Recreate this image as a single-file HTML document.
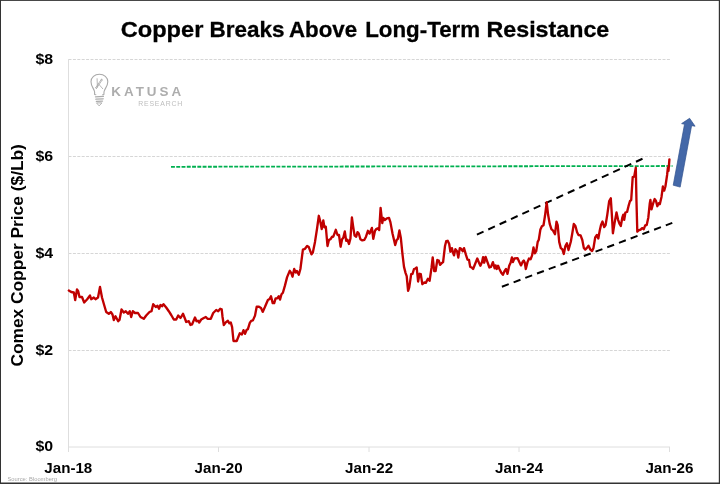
<!DOCTYPE html>
<html><head><meta charset="utf-8"><title>Copper Breaks Above Long-Term Resistance</title>
<style>
html,body{margin:0;padding:0;background:#fff;}
body{width:720px;height:484px;overflow:hidden;}
svg{display:block;will-change:transform;}
text{font-family:"Liberation Sans",sans-serif;}
.b{font-weight:bold;fill:#000;}
</style></head><body>
<svg width="720" height="484" viewBox="0 0 720 484">
<rect x="0" y="0" width="720" height="484" fill="#fff"/>
<!-- grid -->
<g stroke="#d6d6d6" stroke-width="1" stroke-dasharray="3,1.4" fill="none">
<line x1="68.5" y1="59.5" x2="670" y2="59.5"/>
<line x1="68.5" y1="156.5" x2="670" y2="156.5"/>
<line x1="68.5" y1="253.5" x2="670" y2="253.5"/>
<line x1="68.5" y1="350.5" x2="670" y2="350.5"/>
</g>
<g stroke="#dedede" stroke-width="1" fill="none">
<line x1="68.5" y1="59" x2="68.5" y2="452"/>
<line x1="68" y1="447" x2="670" y2="447"/>
<line x1="218.5" y1="447" x2="218.5" y2="452"/>
<line x1="369" y1="447" x2="369" y2="452"/>
<line x1="519" y1="447" x2="519" y2="452"/>
<line x1="669.5" y1="447" x2="669.5" y2="452"/>
</g>
<!-- title -->
<g class="b" font-size="22.9" stroke="#000" stroke-width="0.3">
<text x="120.75" y="37.3" lengthAdjust="spacingAndGlyphs" textLength="82.6">Copper</text>
<text x="209.5" y="37.3" lengthAdjust="spacingAndGlyphs" textLength="74.95">Breaks</text>
<text x="289" y="37.3" lengthAdjust="spacingAndGlyphs" textLength="68.2">Above</text>
<text x="365.25" y="37.3" lengthAdjust="spacingAndGlyphs" textLength="114.8">Long-Term</text>
<text x="486.5" y="37.3" lengthAdjust="spacingAndGlyphs" textLength="122.75">Resistance</text>
</g>
<!-- y labels -->
<g class="b" font-size="15">
<text x="35.4" y="63.9" lengthAdjust="spacingAndGlyphs" textLength="17.7">$8</text>
<text x="35.4" y="160.9" lengthAdjust="spacingAndGlyphs" textLength="17.7">$6</text>
<text x="35.4" y="257.9" lengthAdjust="spacingAndGlyphs" textLength="17.7">$4</text>
<text x="35.4" y="354.9" lengthAdjust="spacingAndGlyphs" textLength="17.7">$2</text>
<text x="35.4" y="451.4" lengthAdjust="spacingAndGlyphs" textLength="17.7">$0</text>
</g>
<!-- x labels -->
<g class="b" font-size="15">
<text x="44.3" y="472.9" lengthAdjust="spacingAndGlyphs" textLength="48">Jan-18</text>
<text x="194.6" y="472.9" lengthAdjust="spacingAndGlyphs" textLength="48">Jan-20</text>
<text x="345.1" y="472.9" lengthAdjust="spacingAndGlyphs" textLength="48">Jan-22</text>
<text x="495.1" y="472.9" lengthAdjust="spacingAndGlyphs" textLength="48">Jan-24</text>
<text x="645.4" y="472.9" lengthAdjust="spacingAndGlyphs" textLength="48">Jan-26</text>
</g>
<text class="b" font-size="17" transform="translate(23.4,366.6) rotate(-90)" x="0" y="0" textLength="222.5" lengthAdjust="spacingAndGlyphs">Comex Copper Price ($/Lb)</text>
<text x="7.5" y="481.3" font-size="5.6" fill="#a6a6a6" textLength="49.5" lengthAdjust="spacingAndGlyphs">Source: Bloomberg</text>
<!-- logo -->
<g fill="none" stroke="#a9a9a9" stroke-width="1.1" stroke-linecap="round" stroke-linejoin="round">
<path d="M95.9,94.7 L94.6,94.5 L94.6,92 C94.2,88.8 91,86.4 91,81.8 C91,77.5 94.7,74.3 99.4,74.3 C104.1,74.3 107.8,77.5 107.8,81.8 C107.8,86.4 104.4,88.8 104,92 L103.9,94.5 L102.6,94.8"/>
<path d="M96.9,102.9 L101.9,102.9 L99.4,105.6 Z" stroke-width="0.9"/>
</g>
<g fill="none" stroke="#ababab" stroke-width="1.35" stroke-linecap="round">
<path d="M95.5,96.8 L103.4,96.3"/>
<path d="M95.9,99.2 L103.1,98.8"/>
<path d="M96.4,101.4 L102.5,101.1"/>
</g>
<g fill="none" stroke="#a4a4a4" stroke-width="0.8" stroke-linecap="round">
<path d="M97.1,78.7 L97.4,87.2"/>
<path d="M101.4,79.2 L95.7,87.8"/>
<path d="M102.2,79.9 L96.5,88.4"/>
<path d="M101.4,79.2 L102.2,79.9 M95.7,87.8 L96.5,88.4"/>
<path d="M98.6,84 L102.7,88.7"/>
</g>
<text x="111.3" y="95.8" font-size="13.4" font-weight="bold" fill="#adadad" textLength="69.8" lengthAdjust="spacing">KATUSA</text>
<text x="138.2" y="105.6" font-size="6.9" fill="#bdbdbd" textLength="44" lengthAdjust="spacing">RESEARCH</text>
<!-- green resistance -->
<line x1="171" y1="166.8" x2="672.5" y2="166" stroke="#00b050" stroke-width="1.8" stroke-dasharray="3.9,1.37"/>
<!-- channel lines -->
<g stroke="#000" stroke-width="2" stroke-dasharray="7.3,5.2" fill="none">
<line x1="476.9" y1="234.7" x2="642.5" y2="158.75"/>
<line x1="501.9" y1="286.7" x2="672.3" y2="222.9"/>
</g>
<!-- price line -->
<path d="M68.8,290.5 L71.2,292.0 L73.8,292.5 L75.2,300.0 L77.0,289.5 L78.2,291.2 L79.5,297.0 L82.0,297.0 L84.2,302.5 L87.0,299.5 L90.0,295.5 L91.2,299.2 L93.8,297.5 L95.5,299.2 L98.0,297.5 L100.0,287.0 L102.0,297.5 L104.0,304.5 L106.2,312.0 L108.8,313.8 L110.8,312.0 L112.5,314.5 L113.8,320.0 L115.5,316.2 L118.2,321.2 L119.5,320.0 L121.5,309.5 L123.8,312.5 L125.8,311.2 L128.0,313.8 L129.8,311.2 L131.2,317.0 L132.8,311.2 L135.0,313.0 L138.0,313.0 L140.5,317.0 L143.8,318.8 L146.2,315.5 L149.5,312.0 L151.5,311.2 L153.2,304.2 L155.8,307.0 L157.5,305.8 L159.0,308.8 L160.5,305.0 L162.0,306.2 L163.5,304.2 L166.2,307.5 L168.8,311.2 L171.2,315.0 L173.8,319.5 L176.2,319.5 L178.2,315.5 L180.5,318.0 L183.0,313.8 L185.0,318.8 L186.2,322.0 L188.8,321.2 L190.5,325.0 L192.0,324.5 L195.0,317.5 L196.5,321.2 L198.0,320.8 L199.2,322.5 L201.2,319.5 L203.8,318.0 L205.8,317.0 L207.5,318.8 L210.8,318.8 L213.2,313.0 L216.2,310.0 L218.2,311.2 L220.2,308.8 L221.7,309.4 L222.5,316.7 L223.8,325.0 L226.2,321.9 L227.9,320.8 L229.4,323.3 L230.8,322.5 L232.1,327.1 L233.5,341.0 L236.7,341.0 L239.8,333.3 L241.9,334.4 L243.5,330.2 L245.0,333.8 L246.7,329.8 L247.9,329.2 L249.8,322.9 L251.2,320.8 L252.9,320.4 L255.0,315.6 L256.7,306.7 L259.0,306.7 L261.0,307.9 L262.7,311.9 L264.8,307.3 L267.9,300.0 L269.6,299.0 L271.0,296.2 L272.7,303.1 L274.2,303.1 L275.6,298.3 L277.3,298.3 L278.8,296.2 L280.0,299.6 L281.5,294.2 L282.9,292.7 L285.0,285.4 L287.1,277.1 L289.8,270.8 L291.2,272.9 L292.5,276.7 L294.2,269.0 L295.8,272.5 L296.9,271.0 L298.8,274.8 L300.4,269.0 L302.9,249.6 L305.0,248.8 L307.1,246.0 L308.8,247.1 L311.5,254.4 L312.9,252.3 L315.0,241.9 L317.1,228.3 L318.8,215.8 L320.2,221.0 L321.7,229.0 L323.3,220.4 L324.4,227.3 L325.8,226.7 L327.5,246.0 L329.0,239.8 L330.6,239.2 L332.1,236.7 L333.3,236.7 L335.8,229.8 L337.5,235.0 L339.0,235.0 L340.6,246.7 L342.1,239.2 L343.3,237.7 L344.8,231.5 L346.2,240.8 L347.5,239.8 L349.0,244.0 L350.4,238.8 L351.9,217.5 L353.1,226.2 L354.6,235.6 L356.2,236.7 L357.5,232.1 L358.8,233.5 L360.4,239.2 L362.3,240.4 L364.4,239.8 L366.0,236.7 L367.9,230.8 L369.6,233.5 L371.9,227.9 L373.3,238.8 L375.0,230.8 L376.5,228.8 L377.9,228.3 L379.2,230.0 L380.6,207.9 L382.3,223.1 L383.3,217.9 L384.8,220.0 L386.9,218.3 L389.0,217.9 L390.4,222.1 L392.5,233.5 L395.2,245.0 L396.7,239.8 L397.9,238.8 L399.4,230.4 L400.8,237.7 L402.5,254.4 L404.0,266.9 L405.6,273.1 L406.7,276.2 L408.1,290.8 L409.2,287.7 L411.2,274.2 L412.5,273.8 L414.0,269.0 L415.4,268.5 L416.7,267.5 L418.1,281.5 L419.6,273.8 L420.8,274.2 L422.3,284.2 L424.4,282.5 L425.8,282.9 L427.9,278.8 L429.6,280.8 L431.5,267.9 L432.7,257.5 L434.2,271.0 L435.6,271.0 L437.3,260.0 L438.8,260.6 L440.0,264.8 L441.5,263.3 L443.1,262.1 L445.0,246.0 L446.2,241.2 L447.7,240.8 L449.2,244.0 L450.4,251.7 L451.9,248.1 L452.9,252.3 L454.0,255.4 L455.4,249.2 L457.1,251.2 L458.3,257.5 L459.8,248.1 L461.2,248.8 L462.7,251.2 L464.0,248.1 L465.8,254.4 L467.5,259.6 L469.0,260.0 L470.2,266.9 L471.7,267.5 L473.1,269.0 L474.8,264.8 L477.3,258.5 L479.0,262.7 L480.4,265.8 L482.1,261.7 L483.1,257.1 L484.2,262.7 L485.6,256.9 L487.3,261.7 L489.4,267.5 L491.0,266.9 L492.9,262.1 L494.6,268.3 L495.6,265.4 L496.7,269.0 L498.1,265.8 L499.4,269.0 L501.5,273.1 L502.9,274.8 L504.6,271.0 L506.0,269.0 L507.5,273.8 L509.2,265.8 L510.6,262.7 L511.9,257.5 L512.9,262.1 L514.4,258.5 L517.5,258.1 L519.2,261.7 L521.0,265.4 L522.7,261.7 L523.8,260.6 L524.8,262.7 L525.8,269.0 L527.5,262.1 L529.0,258.5 L530.6,259.2 L532.1,255.4 L533.5,247.5 L534.8,253.3 L536.2,251.2 L537.7,241.9 L538.8,239.8 L540.4,229.4 L541.9,226.2 L543.5,225.2 L545.0,215.8 L546.7,202.3 L548.1,214.8 L549.8,224.2 L551.5,229.4 L552.9,230.4 L555.0,234.2 L556.5,221.7 L557.7,225.2 L559.2,241.9 L560.8,248.1 L562.3,249.2 L563.8,254.0 L565.4,246.0 L566.9,243.3 L568.5,250.0 L570.8,241.7 L572.3,233.3 L573.8,224.0 L575.4,226.0 L577.1,232.3 L578.5,235.0 L580.6,235.4 L582.3,240.0 L583.8,247.9 L585.2,249.6 L586.9,247.9 L588.5,245.8 L590.4,249.6 L592.1,251.0 L593.5,247.9 L595.2,237.5 L596.9,235.0 L598.3,238.5 L599.8,230.2 L601.0,225.0 L602.5,221.5 L604.2,227.1 L605.6,225.0 L607.3,214.6 L609.2,201.0 L610.8,198.3 L612.1,218.8 L612.9,233.3 L614.6,222.9 L616.5,212.5 L618.1,219.8 L619.6,224.0 L620.8,226.0 L622.3,217.7 L623.3,214.6 L624.2,219.8 L625.4,212.5 L627.1,211.9 L628.5,206.2 L630.0,201.0 L631.2,200.0 L632.7,177.1 L634.2,176.7 L635.8,167.7 L636.5,202.1 L637.3,231.7 L639.0,230.2 L640.6,229.6 L642.1,228.1 L643.8,229.2 L645.2,225.4 L646.7,225.0 L648.3,217.7 L649.8,203.1 L650.4,200.0 L651.5,209.4 L652.9,204.2 L654.6,199.0 L656.0,201.0 L657.3,206.2 L658.8,203.1 L659.8,204.2 L661.5,196.9 L662.9,186.5 L664.2,190.6 L665.4,186.5 L667.1,175.0 L667.9,167.7 L668.5,170.8 L669.4,159.4" fill="none" stroke="#c00000" stroke-width="2.35" stroke-linejoin="round" stroke-linecap="round"/>
<!-- arrow -->
<polygon points="689.6,118.3 695.1,126.2 691.6,125.7 680.2,187.1 673.2,185.2 684.5,124.3 681.6,123.6" fill="#4468a8" stroke="#31528e" stroke-width="0.7" stroke-linejoin="miter"/>
<!-- border -->
<g fill="#333">
<rect x="0" y="0" width="720" height="0.9"/>
<rect x="0" y="0" width="1" height="484"/>
<rect x="718.8" y="0" width="1.2" height="484"/>
<rect x="0" y="482.5" width="720" height="1.5"/>
</g>
</svg>
</body></html>
